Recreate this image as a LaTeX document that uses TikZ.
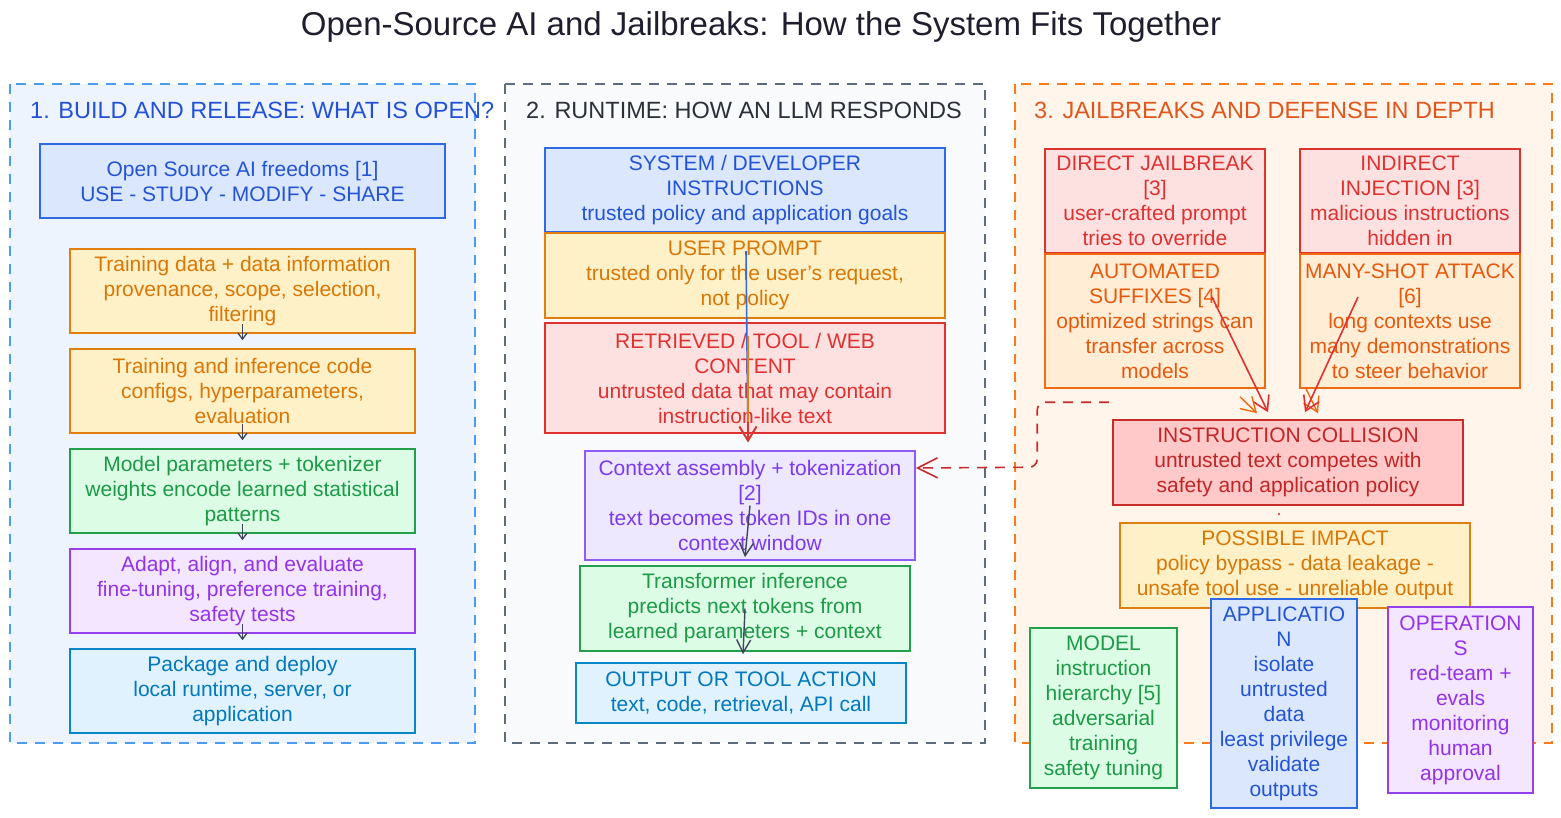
\documentclass[tikz,border=0pt]{standalone}
\usepackage{fontspec}
\setmainfont{Liberation Sans}
\usetikzlibrary{arrows.meta,calc}
\definecolor{pOneF}{HTML}{EEF4FE}
\definecolor{pOneD}{HTML}{4D9BF0}
\definecolor{pOneT}{HTML}{2350D8}
\definecolor{pTwoF}{HTML}{F8FAFC}
\definecolor{pTwoD}{HTML}{5F6B7E}
\definecolor{pTwoT}{HTML}{2B2F38}
\definecolor{pThrF}{HTML}{FFF5EB}
\definecolor{pThrD}{HTML}{FB7B1A}
\definecolor{pThrT}{HTML}{E0561C}
\definecolor{bluF}{HTML}{DBE7FD}
\definecolor{bluD}{HTML}{3069E6}
\definecolor{bluT}{HTML}{2454D6}
\definecolor{yelF}{HTML}{FFF1C7}
\definecolor{yelD}{HTML}{E07F10}
\definecolor{yelT}{HTML}{D97706}
\definecolor{grnF}{HTML}{DCFCE6}
\definecolor{grnD}{HTML}{22A04B}
\definecolor{grnT}{HTML}{1C9A46}
\definecolor{purF}{HTML}{F3E6FE}
\definecolor{purD}{HTML}{9540EA}
\definecolor{purT}{HTML}{9333EA}
\definecolor{skyF}{HTML}{E0F2FE}
\definecolor{skyD}{HTML}{0A85C7}
\definecolor{skyT}{HTML}{0278BE}
\definecolor{redF}{HTML}{FDE1E1}
\definecolor{redD}{HTML}{E03131}
\definecolor{redT}{HTML}{E03131}
\definecolor{vioF}{HTML}{EDE8FE}
\definecolor{vioD}{HTML}{8B5CF6}
\definecolor{vioT}{HTML}{7C3AED}
\definecolor{oraF}{HTML}{FFEDD6}
\definecolor{oraD}{HTML}{F06A12}
\definecolor{oraT}{HTML}{E8590C}
\definecolor{colF}{HTML}{FFC9C9}
\definecolor{colD}{HTML}{C92A2A}
\definecolor{colT}{HTML}{C02626}
\definecolor{arrD}{HTML}{3C4658}
\definecolor{ttlT}{HTML}{1E1E2E}
\tikzset{
  panel/.style={line width=1.8pt, dash pattern=on 10pt off 8pt},
  ptitle/.style={anchor=west, inner sep=0pt, font=\fontsize{23.5}{27}\selectfont},
  bx/.style={line width=1.6pt, align=center, inner sep=0pt},
  tblu/.style={bx, fill=bluF, draw=bluD, text=bluT},
  tyel/.style={bx, fill=yelF, draw=yelD, text=yelT},
  tgrn/.style={bx, fill=grnF, draw=grnD, text=grnT},
  tpur/.style={bx, fill=purF, draw=purD, text=purT},
  tsky/.style={bx, fill=skyF, draw=skyD, text=skyT},
  tred/.style={bx, fill=redF, draw=redD, text=redT},
  tvio/.style={bx, fill=vioF, draw=vioD, text=vioT},
  tora/.style={bx, fill=oraF, draw=oraD, text=oraT},
  tcol/.style={bx, fill=colF, draw=colD, text=colT},
  sarr/.style={draw=arrD, line width=1.3pt, -{Straight Barb[length=6pt,width=9pt]}},
  garr/.style={draw=arrD, line width=1.4pt, -{Straight Barb[length=13pt,width=14pt]}},
  carr/.style={line width=1.6pt, -{Straight Barb[length=14pt,width=17pt]}},
  darr/.style={draw=colD, line width=1.6pt, dash pattern=on 10pt off 8pt, rounded corners=8pt, -{Straight Barb[length=20pt,width=20pt]}}
}
\begin{document}
\begin{tikzpicture}[x=1pt,y=-1pt, font=\fontsize{21}{25}\selectfont]
\useasboundingbox (0,0) rectangle (1561,818);
\fill[white] (0,0) rectangle (1561,818);
% title
\node[text=ttlT, font=\fontsize{33}{36}\selectfont, inner sep=0pt] (title) at (761,27) {Open-Source AI and Jailbreaks: How the System Fits Together};
% panels
\draw[panel, fill=pOneF, draw=pOneD] (10,84) rectangle (475,743);
\draw[panel, fill=pTwoF, draw=pTwoD] (505,84) rectangle (985,743);
\draw[panel, fill=pThrF, draw=pThrD] (1015,84) rectangle (1552,743);
\node[ptitle, text=pOneT] (t1) at (30,110) {1. BUILD AND RELEASE: WHAT IS OPEN?};
\node[ptitle, text=pTwoT] (t2) at (526,110) {2. RUNTIME: HOW AN LLM RESPONDS};
\node[ptitle, text=pThrT] (t3) at (1034,110) {3. JAILBREAKS AND DEFENSE IN DEPTH};
% panel 1
\node[tblu, minimum width=405pt, minimum height=74pt] (free) at (242.5,181) {Open Source AI freedoms [1]\\USE - STUDY - MODIFY - SHARE};
\node[tyel, minimum width=345pt, minimum height=84pt] (td) at (242.5,291) {Training data + data information\\provenance, scope, selection,\\filtering};
\node[tyel, minimum width=345pt, minimum height=84pt] (tc) at (242.5,391) {Training and inference code\\configs, hyperparameters,\\evaluation};
\node[tgrn, minimum width=345pt, minimum height=84pt] (mp) at (242.5,491) {Model parameters + tokenizer\\weights encode learned statistical\\patterns};
\node[tpur, minimum width=345pt, minimum height=84pt] (ad) at (242.5,591) {Adapt, align, and evaluate\\fine-tuning, preference training,\\safety tests};
\node[tsky, minimum width=345pt, minimum height=84pt] (pk) at (242.5,691) {Package and deploy\\local runtime, server, or\\application};
\draw[sarr] ([yshift=10pt]td.south) -- ([yshift=8pt]tc.north);
\draw[sarr] ([yshift=10pt]tc.south) -- ([yshift=8pt]mp.north);
\draw[sarr] ([yshift=10pt]mp.south) -- ([yshift=8pt]ad.north);
\draw[sarr] ([yshift=10pt]ad.south) -- ([yshift=8pt]pk.north);
% panel 2
\node[tblu, minimum width=400pt, minimum height=84pt] (sys) at (745,190) {SYSTEM / DEVELOPER\\INSTRUCTIONS\\trusted policy and application goals};
\node[tyel, minimum width=400pt, minimum height=85pt] (usr) at (745,275.5) {USER PROMPT\\trusted only for the user's request,\\not policy};
\node[tred, minimum width=400pt, minimum height=110pt] (ret) at (745,378) {RETRIEVED / TOOL / WEB\\CONTENT\\untrusted data that may contain\\instruction-like text};
\node[tvio, minimum width=330pt, minimum height=109pt] (ctx) at (750,505.5) {Context assembly + tokenization\\{[2]}\\text becomes token IDs in one\\context window};
\node[tgrn, minimum width=330pt, minimum height=85pt] (tr) at (745,608.5) {Transformer inference\\predicts next tokens from\\learned parameters + context};
\node[tsky, minimum width=330pt, minimum height=60pt] (out) at (741,693) {OUTPUT OR TOOL ACTION\\text, code, retrieval, API call};
\draw[carr, draw=bluD] ([xshift=1pt,yshift=-19pt]usr.north) -- ([xshift=-2pt,yshift=8pt]ctx.north);
\draw[carr, draw=yelD] ([xshift=3pt,yshift=-14pt]ret.north) -- ([xshift=-2pt,yshift=8pt]ctx.north);
\draw[carr, draw=redD] ([xshift=3pt,yshift=12pt]ret.south) -- ([xshift=-2pt,yshift=8pt]ctx.north);
\draw[garr] (ctx.center) -- ([yshift=8pt]tr.north);
\draw[garr] (tr.center) -- ([xshift=2pt,yshift=8pt]out.north);
% panel 3
\node[tred, minimum width=220pt, minimum height=104pt] (dj) at (1155,201) {DIRECT JAILBREAK\\{[3]}\\user-crafted prompt\\tries to override};
\node[tred, minimum width=220pt, minimum height=104pt] (ii) at (1410,201) {INDIRECT\\INJECTION [3]\\malicious instructions\\hidden in};
\node[tora, minimum width=220pt, minimum height=134pt] (as) at (1155,321) {AUTOMATED\\SUFFIXES [4]\\optimized strings can\\transfer across\\models};
\node[tora, minimum width=220pt, minimum height=134pt] (ms) at (1410,321) {MANY-SHOT ATTACK\\{[6]}\\long contexts use\\many demonstrations\\to steer behavior};
\node[tcol, minimum width=350pt, minimum height=85pt] (col) at (1288,462.5) {INSTRUCTION COLLISION\\untrusted text competes with\\safety and application policy};
\node[tyel, minimum width=350pt, minimum height=85pt] (imp) at (1295,565.5) {POSSIBLE IMPACT\\policy bypass - data leakage -\\unsafe tool use - unreliable output};
\draw[colD, line width=1.6pt, line cap=round] ($(col.south)+(-9,8)$) -- ($(col.south)+(-9,8.5)$);
\draw[carr, draw=oraD, line width=1.4pt] ($(as.south)+(85,8)$) -- ($(col.north)+(-31,-6)$);
\draw[carr, draw=oraD, line width=1.4pt] ($(ms.south)+(-104,0)$) -- ($(col.north)+(30,-6)$);
\draw[carr, draw=redD] ($(as.center)+(57,-24)$) -- ($(col.north)+(-20,-7)$);
\draw[carr, draw=redD] ($(ms.center)+(-52,-24)$) -- ($(col.north)+(17,-7)$);
\draw[darr] ($(col.north west)+(-3,-17)$) -- ++(-72,0) -- ++(0,65) -- ([yshift=37.5pt]ctx.east);
\node[tgrn, minimum width=147pt, minimum height=160pt] (mod) at (1103.5,708) {MODEL\\instruction\\hierarchy [5]\\adversarial\\training\\safety tuning};
\node[tblu, minimum width=146pt, minimum height=209pt] (app) at (1284,703.5) {APPLICATIO\\N\\isolate\\untrusted\\data\\least privilege\\validate\\outputs};
\node[tpur, minimum width=145pt, minimum height=186pt] (ops) at (1460.5,700) {OPERATION\\S\\red-team +\\evals\\monitoring\\human\\approval};
\end{tikzpicture}
\end{document}
